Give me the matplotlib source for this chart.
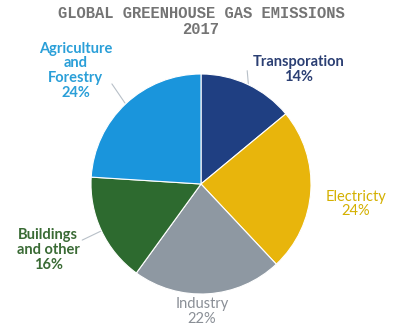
import numpy as np
import matplotlib
matplotlib.use("Agg")
import matplotlib.pyplot as plt

# emission shares by sector, clockwise from 12 o'clock
sectors = ["Transporation", "Electricty", "Industry", "Buildings\nand other", "Agriculture\nand\nForestry"]
shares = [14, 24, 22, 16, 24]
colors = ["#1f3f82", "#e8b50c", "#8e98a2", "#2d6a2f", "#1a95dc"]
text_colors = ["#2b3f73", "#d4b000", "#8a8f96", "#3a6b35", "#2a9fd8"]
weights = ["bold", "normal", "normal", "bold", "bold"]

# label centres and leader-line starts (data units, pie radius = 1)
label_pos = [(0.89, 1.04), (1.41, -0.18), (0.01, -1.16), (-1.39, -0.60), (-1.14, 1.03)]
leader_from = [(0.42, 1.03), (1.11, -0.16), None, (-1.08, -0.51), (-0.81, 0.91)]

fig = plt.figure(figsize=(4.02, 3.28), dpi=100)
ax = fig.add_axes([91 / 402, 34 / 328, 220 / 402, 220 / 328])

wedges, _ = ax.pie(shares, colors=colors, startangle=90, counterclock=False,
                   radius=1, wedgeprops=dict(edgecolor="white", linewidth=0.8))
ax.set_xlim(-1, 1)
ax.set_ylim(-1, 1)
ax.set_aspect("equal")
ax.axis("off")

for w, name, val, tc, fw, pos, src in zip(wedges, sectors, shares, text_colors, weights,
                                          label_pos, leader_from):
    ax.text(pos[0], pos[1], f"{name}\n{val}%", ha="center", va="center",
            color=tc, fontsize=10.5, fontweight=fw, family="Lato",
            linespacing=1.05)
    if src is not None:
        mid = np.deg2rad((w.theta1 + w.theta2) / 2)
        ax.annotate("", xy=(np.cos(mid) * 1.01, np.sin(mid) * 1.01), xytext=src,
                    arrowprops=dict(arrowstyle="-", color="#b8c0c8", lw=0.8,
                                    shrinkA=0, shrinkB=0))

fig.text(201 / 402, 1 - 21.5 / 328, "GLOBAL GREENHOUSE GAS EMISSIONS\n2017",
         ha="center", va="center", family="Liberation Mono", fontweight="bold",
         fontsize=11.2, color="#747474", linespacing=1.0)

fig.savefig("out.png", dpi=100, facecolor="white")
